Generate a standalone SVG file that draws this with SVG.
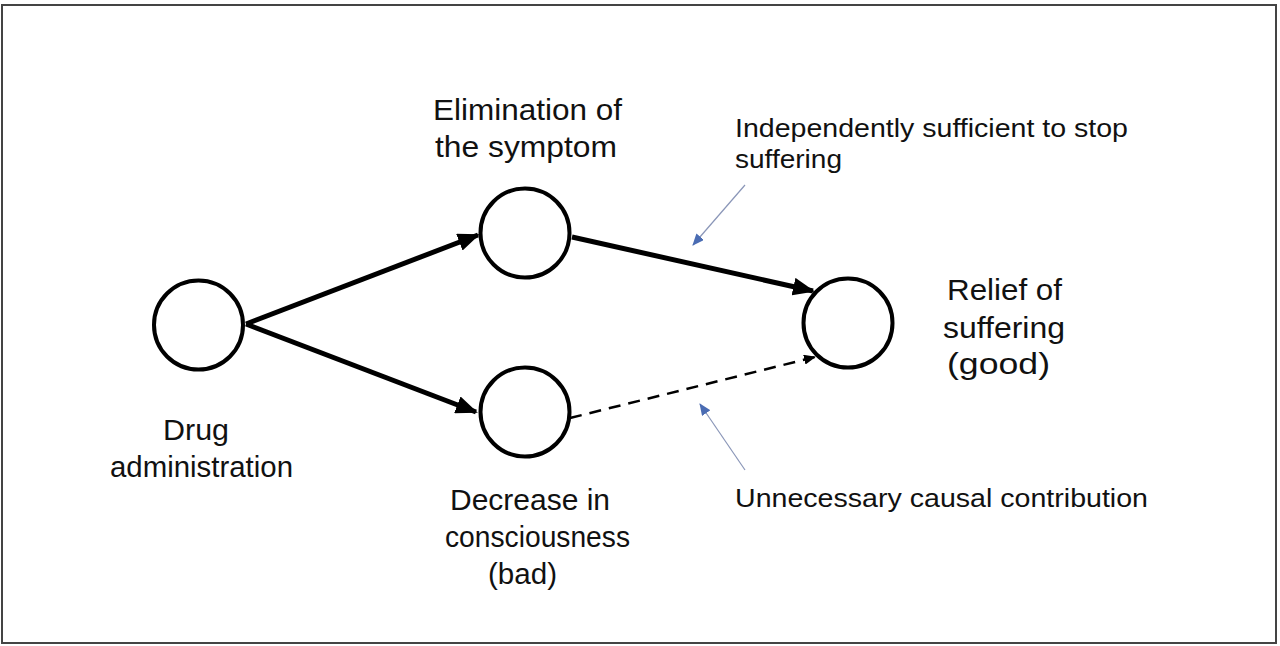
<svg xmlns="http://www.w3.org/2000/svg" width="1280" height="646" viewBox="0 0 1280 646">
<style>
.node{fill:#fff;stroke:#000;stroke-width:4}
.lbl{font-family:"Liberation Sans",Arial,sans-serif;font-size:30px;fill:#111}
.ann{font-family:"Liberation Sans",Arial,sans-serif;font-size:26px;fill:#111}
.thick{stroke:#000;stroke-width:5;fill:none}
.dash{stroke:#000;stroke-width:2.5;fill:none;stroke-dasharray:12 8}
.blue{stroke:#8a96b8;stroke-width:1.2;fill:none}
</style>
<defs>
<marker id="ah" markerUnits="userSpaceOnUse" markerWidth="22" markerHeight="18" refX="20" refY="9" orient="auto">
<path d="M0,0 L22,9 L0,18 z" fill="#000"/>
</marker>
<marker id="ahs" markerUnits="userSpaceOnUse" markerWidth="12" markerHeight="10" refX="11" refY="5" orient="auto">
<path d="M0,0 L12,5 L0,10 z" fill="#000"/>
</marker>
<marker id="ahb" markerUnits="userSpaceOnUse" markerWidth="12" markerHeight="10" refX="11" refY="5" orient="auto">
<path d="M0,0 L12,5 L0,10 z" fill="#4a6cb3"/>
</marker>
</defs>
<rect x="2" y="5" width="1274" height="638" fill="#fff" stroke="#444" stroke-width="2"/>
<g id="connectors">
<line class="thick" x1="246" y1="324" x2="478" y2="235" marker-end="url(#ah)"/>
<line class="thick" x1="246" y1="324" x2="476" y2="412" marker-end="url(#ah)"/>
<line class="thick" x1="572" y1="237" x2="813" y2="291" marker-end="url(#ah)"/>
<line class="dash" x1="570" y1="418" x2="815" y2="357" marker-end="url(#ahs)"/>
<line class="blue" x1="745" y1="185" x2="693" y2="245" marker-end="url(#ahb)"/>
<line class="blue" x1="745" y1="470" x2="700" y2="404" marker-end="url(#ahb)"/>
</g>
<g id="drug">
<circle class="node" cx="198.5" cy="325" r="44.5"/>
<text class="lbl" x="163" y="440" textLength="66" lengthAdjust="spacingAndGlyphs">Drug</text>
<text class="lbl" x="110" y="477" textLength="183" lengthAdjust="spacingAndGlyphs">administration</text>
</g>
<g id="elimination">
<circle class="node" cx="525" cy="233" r="44.5"/>
<text class="lbl" x="433" y="120" textLength="189" lengthAdjust="spacingAndGlyphs">Elimination of</text>
<text class="lbl" x="435" y="157" textLength="182" lengthAdjust="spacingAndGlyphs">the symptom</text>
</g>
<g id="decrease">
<circle class="node" cx="525" cy="412" r="44.5"/>
<text class="lbl" x="450" y="510" textLength="160" lengthAdjust="spacingAndGlyphs">Decrease in</text>
<text class="lbl" x="445" y="547" textLength="185" lengthAdjust="spacingAndGlyphs">consciousness</text>
<text class="lbl" x="488" y="584" textLength="69" lengthAdjust="spacingAndGlyphs">(bad)</text>
</g>
<g id="relief">
<circle class="node" cx="848" cy="323" r="44.5"/>
<text class="lbl" x="947" y="300" textLength="115" lengthAdjust="spacingAndGlyphs">Relief of</text>
<text class="lbl" x="943" y="338" textLength="122" lengthAdjust="spacingAndGlyphs">suffering</text>
<text class="lbl" x="947" y="374" textLength="103" lengthAdjust="spacingAndGlyphs">(good)</text>
</g>
<g id="annotation-sufficient">
<text class="ann" x="735" y="137" textLength="393" lengthAdjust="spacingAndGlyphs">Independently sufficient to stop</text>
<text class="ann" x="735" y="168" textLength="107" lengthAdjust="spacingAndGlyphs">suffering</text>
</g>
<g id="annotation-unnecessary">
<text class="ann" x="735" y="507" textLength="413" lengthAdjust="spacingAndGlyphs">Unnecessary causal contribution</text>
</g>
</svg>
